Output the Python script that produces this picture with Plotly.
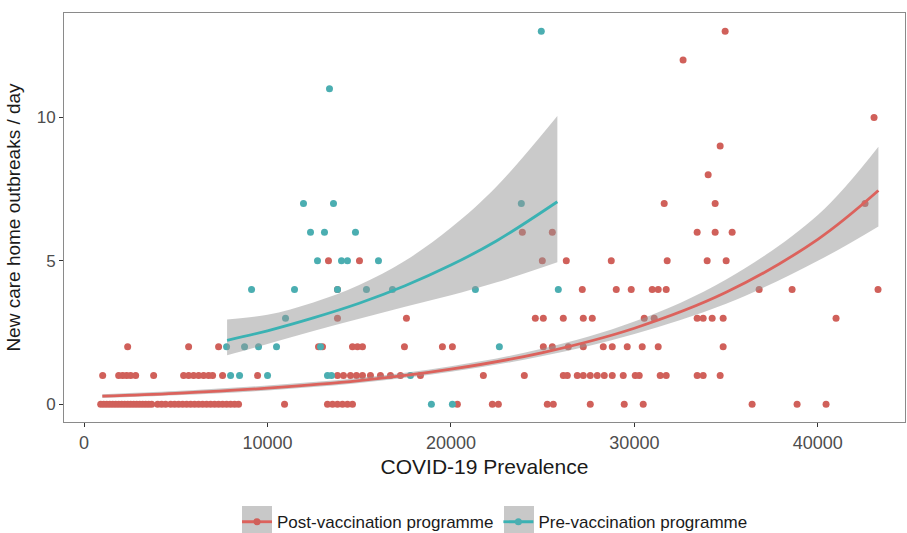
import plotly.graph_objects as go

# ---------------- data ----------------
# Post-vaccination points: x (COVID-19 prevalence) for each daily outbreak count
post_x_0 = [910, 1073, 1236, 1400, 1563, 1726, 1890, 2053, 2216, 2380, 2543, 2706, 2870, 3033, 3197, 3360,
            3523, 3687, 4013, 4231, 4449, 4722, 4939, 5157, 5375, 5593, 5811, 6028, 6246, 6464, 6682, 6900,
            7117, 7335, 7553, 7771, 7989, 8207, 8424, 10931, 13272, 13545, 13817, 14089, 14361, 14634,
            20352, 22258, 22585, 25253, 25580, 27595, 29447, 30481, 36417, 38868, 40447]
post_x_1 = [1018, 1890, 2108, 2325, 2543, 2816, 3796, 5430, 5702, 5974, 6247, 6519, 6791, 7009, 7553, 9460,
            13817, 14144, 14525, 14852, 15179, 15614, 16159, 16703, 17248, 18337, 21768, 24001, 26125, 26343,
            26887, 27214, 27595, 27976, 28358, 28793, 29392, 30046, 30263, 31407, 31734, 33422, 33749, 34675]
post_x_2 = [2380, 5702, 7336, 12782, 13000, 14634, 14906, 15179, 17466, 19536, 20080, 25036, 25526, 26398,
            27214, 28303, 28793, 29610, 30427, 31298, 34838]
post_x_3 = [13817, 17575, 24600, 25036, 26125, 27214, 27704, 30536, 31080, 33422, 33749, 34239, 34838, 40992]
post_x_4 = [13817, 27160, 29011, 29828, 30971, 31298, 31734, 36799, 38596, 43280]
post_x_5 = [13326, 15015, 24981, 26288, 28739, 31788, 33967, 35002]
post_x_6 = [23892, 25526, 33422, 34402, 35328]
post_x_7 = [31625, 34402, 42572]
post_x_8 = [34021]
post_x_9 = [34675]
post_x_10 = [43063]
post_x_12 = [32654]
post_x_13 = [34947]

# Pre-vaccination points
pre_x_0 = [18935, 20080]
pre_x_1 = [7989, 8479, 10004, 13272, 13490, 17793]
pre_x_2 = [7771, 8751, 9514, 10494, 12891, 22640]
pre_x_3 = [10984]
pre_x_4 = [9133, 11474, 13817, 15396, 16812, 21333, 25853]
pre_x_5 = [12727, 14035, 14361, 16050]
pre_x_6 = [12346, 13108, 14797]
pre_x_7 = [11964, 13599, 23837]
pre_x_11 = [13381]
pre_x_13 = [24926]

# fitted curves and confidence bands
post_fit_x = [1000, 5000, 10000, 15000, 20000, 25000, 30000, 35000, 40000, 43300]
post_fit_y = [0.28, 0.38, 0.56, 0.82, 1.22, 1.80, 2.65, 3.90, 5.75, 7.45]
post_lo = [0.22, 0.31, 0.48, 0.74, 1.13, 1.68, 2.45, 3.50, 5.00, 6.20]
post_hi = [0.35, 0.46, 0.65, 0.91, 1.32, 1.94, 2.88, 4.35, 6.60, 8.98]

pre_fit_x = [7800, 10000, 12500, 15000, 17500, 20000, 22500, 25800]
pre_fit_y = [2.23, 2.56, 3.01, 3.52, 4.13, 4.85, 5.70, 7.06]
pre_lo = [1.71, 2.10, 2.55, 2.98, 3.40, 3.80, 4.25, 4.95]
pre_hi = [2.95, 3.12, 3.55, 4.16, 5.00, 6.15, 7.60, 10.05]

series_names = ["Post-vaccination programme", "Pre-vaccination programme"]
x_ticks = [0, 10000, 20000, 30000, 40000]
y_ticks = [0, 5, 10]

post_rows = [(0, post_x_0), (1, post_x_1), (2, post_x_2), (3, post_x_3), (4, post_x_4), (5, post_x_5),
             (6, post_x_6), (7, post_x_7), (8, post_x_8), (9, post_x_9), (10, post_x_10), (12, post_x_12),
             (13, post_x_13)]
pre_rows = [(0, pre_x_0), (1, pre_x_1), (2, pre_x_2), (3, pre_x_3), (4, pre_x_4), (5, pre_x_5),
            (6, pre_x_6), (7, pre_x_7), (11, pre_x_11), (13, pre_x_13)]


def flatten(rows):
    xs, ys = [], []
    for yv, xl in rows:
        xs += xl
        ys += [yv] * len(xl)
    return xs, ys


post_x, post_y = flatten(post_rows)
pre_x, pre_y = flatten(pre_rows)

RED_PT, RED_LN = "#D0605A", "#DC625C"
TEAL_PT, TEAL_LN = "#4BAEB1", "#3AB2B3"
BAND = "rgba(150,150,150,0.5)"
KEY_BG = "#C8C8C8"
FONT = "Liberation Sans, Arial, sans-serif"

fig = go.Figure()

# points
fig.add_trace(go.Scatter(x=post_x, y=post_y, mode="markers", showlegend=False,
                         marker=dict(color=RED_PT, size=7, line=dict(width=0)), hoverinfo="skip"))
fig.add_trace(go.Scatter(x=pre_x, y=pre_y, mode="markers", showlegend=False,
                         marker=dict(color=TEAL_PT, size=7, line=dict(width=0)), hoverinfo="skip"))

# confidence bands
for fx, lo, hi in [(post_fit_x, post_lo, post_hi), (pre_fit_x, pre_lo, pre_hi)]:
    fig.add_trace(go.Scatter(x=fx, y=lo, mode="lines", line=dict(width=0, shape="spline"),
                             showlegend=False, hoverinfo="skip"))
    fig.add_trace(go.Scatter(x=fx, y=hi, mode="lines", line=dict(width=0, shape="spline"),
                             fill="tonexty", fillcolor=BAND, showlegend=False, hoverinfo="skip"))

# fitted lines (legend entries: line with a point, markers hidden in the plot itself)
for fx, fy, nm, lc, pc in [(post_fit_x, post_fit_y, series_names[0], RED_LN, RED_PT),
                           (pre_fit_x, pre_fit_y, series_names[1], TEAL_LN, TEAL_PT)]:
    fig.add_trace(go.Scatter(x=fx, y=fy, mode="lines+markers", name=nm,
                             line=dict(color=lc, width=2.8, shape="spline"),
                             marker=dict(size=7, color=pc),
                             selectedpoints=[], unselected=dict(marker=dict(opacity=0)),
                             hoverinfo="skip"))

# grey legend key backgrounds (ggplot style keys)
PLOT_L, PLOT_W, PLOT_B, PLOT_H = 64, 841, 422, 409


def px_to_paper(x0, x1, y0, y1):
    return dict(x0=(x0 - PLOT_L) / PLOT_W, x1=(x1 - PLOT_L) / PLOT_W,
                y0=(PLOT_B - y1) / PLOT_H, y1=(PLOT_B - y0) / PLOT_H)


key_shapes = []
for kx in (242, 504):
    key_shapes.append(dict(type="rect", xref="paper", yref="paper", layer="above",
                           fillcolor=KEY_BG, line=dict(width=0),
                           **px_to_paper(kx, kx + 30, 506, 536)))

fig.update_layout(
    width=907, height=533,
    margin=dict(l=64, r=2, t=13, b=111, autoexpand=False),
    plot_bgcolor="white", paper_bgcolor="white",
    font=dict(family=FONT, color="#1a1a1a"),
    shapes=key_shapes,
    legend=dict(orientation="h", x=0.5125, xanchor="center", y=-0.245, yanchor="middle",
                traceorder="normal",
                font=dict(size=17, color="#1a1a1a", family=FONT), itemwidth=30,
                bgcolor="rgba(0,0,0,0)"),
)
fig.update_xaxes(range=[-1090, 44750], tickvals=x_ticks, ticktext=[str(v) for v in x_ticks],
                 showgrid=False, zeroline=False, showline=True, mirror=True, linecolor="#8a8a8a",
                 linewidth=1, ticks="outside", ticklen=4, tickcolor="#333333", automargin=False,
                 tickfont=dict(size=18, color="#4d4d4d", family=FONT),
                 title=dict(text="COVID-19 Prevalence", font=dict(size=21, color="#1a1a1a", family=FONT),
                            standoff=7))
fig.update_yaxes(range=[-0.62, 13.64], tickvals=y_ticks, ticktext=[str(v) for v in y_ticks],
                 showgrid=False, zeroline=False, showline=True, mirror=True, linecolor="#8a8a8a",
                 linewidth=1, ticks="outside", ticklen=4, tickcolor="#333333", automargin=False,
                 tickfont=dict(size=17, color="#4d4d4d", family=FONT),
                 title=dict(text="New care home outbreaks / day", font=dict(size=19, color="#1a1a1a", family=FONT),
                            standoff=11))

fig.write_html("out.html")
